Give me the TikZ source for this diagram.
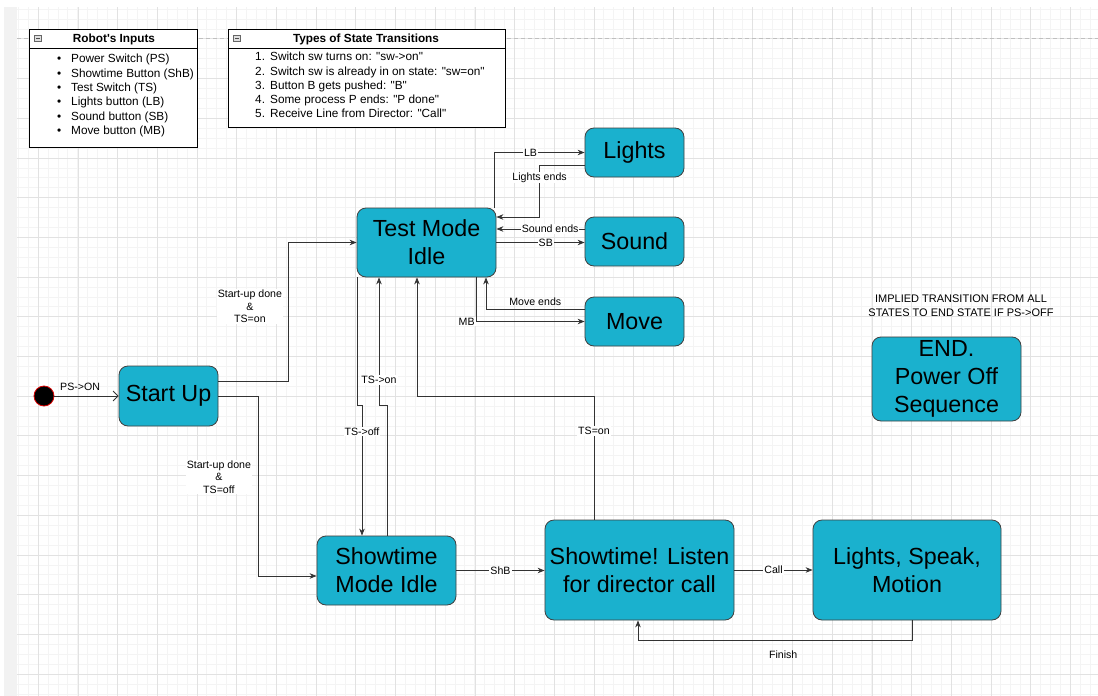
\documentclass[tikz,border=0pt]{standalone}
\usepackage{fontspec}
\setmainfont[Ligatures=TeXOff]{Liberation Sans}
\usetikzlibrary{arrows.meta,calc}
\definecolor{stfill}{RGB}{26,177,206}
\definecolor{gridminor}{RGB}{244,244,244}
\definecolor{gridmajor}{RGB}{226,226,226}
\begin{document}
\begin{tikzpicture}[x=1pt,y=-1pt,
  state/.style={draw=black!75, fill=stfill, rounded corners=9pt, align=center, inner sep=0pt,
    font=\fontsize{23.3}{28}\selectfont, line width=0.8pt},
  panel/.style={draw=black, fill=white, line width=0.8pt, inner sep=0pt},
  icon/.style={draw=black!60, fill=black!12, minimum width=7pt, minimum height=6pt, inner sep=0pt,
    path picture={\draw[black!70,line width=0.8pt] ([xshift=1.5pt]path picture bounding box.west) -- ([xshift=-1.5pt]path picture bounding box.east);}},
  listtext/.style={align=left, inner sep=0pt, font=\fontsize{11.8}{14.4}\selectfont},
  hdr/.style={inner sep=0pt, font=\bfseries\fontsize{11.8}{13}\selectfont},
  arr/.style={draw=black!80, line width=0.8pt, -{Stealth[length=7pt,width=5.5pt]}},
  lbl/.style={fill=white, inner sep=1pt, font=\fontsize{10.6}{12}\selectfont},
  lbltwo/.style={fill=white, inner sep=1pt, align=center, font=\fontsize{10.6}{12.5}\selectfont},
  note/.style={align=center, inner sep=0pt, font=\fontsize{11}{14}\selectfont}
]
\useasboundingbox (0,0) rectangle (1098,696);
% background grid
\fill[white] (0,0) rectangle (1098,696);
\fill[black!5] (4,7) rectangle (17,696);
\foreach \i in {0,...,108} {\draw[gridminor, line width=0.6pt] ({18.15+\i*9.925},7) -- ({18.15+\i*9.925},696);}
\foreach \i in {0,...,69} {\draw[gridminor, line width=0.6pt] (17,{9+\i*9.925}) -- (1098,{9+\i*9.925});}
\foreach \i in {0,...,26} {\draw[gridmajor, line width=0.7pt] ({38.15+\i*39.7},7) -- ({38.15+\i*39.7},696);}
\foreach \i in {0,...,16} {\draw[gridmajor, line width=0.7pt] (17,{38.8+\i*39.7}) -- (1098,{38.8+\i*39.7});}
\draw[black!25, line width=1pt, dash pattern=on 4pt off 3pt] (17,38) -- (1098,38);

% Robot's Inputs panel
\node[panel, minimum width=168pt, minimum height=118pt, anchor=north west] (ri) at (29,29) {};
\draw[line width=0.8pt] ([yshift=-19pt]ri.north west) -- ([yshift=-19pt]ri.north east);
\node[icon] (rii) at (38,38) {};
\node[hdr] (rih) at (114,39) {Robot's Inputs};
\node[listtext, anchor=north west] (ril) at (57,54) {%
\makebox[14pt][l]{\textbullet}Power Switch (PS)\\
\makebox[14pt][l]{\textbullet}Showtime Button (ShB)\\
\makebox[14pt][l]{\textbullet}Test Switch (TS)\\
\makebox[14pt][l]{\textbullet}Lights button (LB)\\
\makebox[14pt][l]{\textbullet}Sound button (SB)\\
\makebox[14pt][l]{\textbullet}Move button (MB)};

% Types of State Transitions panel
\node[panel, minimum width=277pt, minimum height=98pt, anchor=north west] (ts) at (228,29) {};
\draw[line width=0.8pt] ([yshift=-19pt]ts.north west) -- ([yshift=-19pt]ts.north east);
\node[icon] (tsi) at (237,38) {};
\node[hdr] (tsh) at (366,39) {Types of State Transitions};
\node[listtext, anchor=north west, font=\fontsize{11.8}{14.25}\selectfont] (tsl) at (255,52) {%
\makebox[15pt][l]{1.}Switch sw turns on: "sw->on"\\
\makebox[15pt][l]{2.}Switch sw is already in on state: "sw=on"\\
\makebox[15pt][l]{3.}Button B gets pushed: "B"\\
\makebox[15pt][l]{4.}Some process P ends: "P done"\\
\makebox[15pt][l]{5.}Receive Line from Director: "Call"};

% states
\node[circle, fill=black, draw=red!85!black, line width=0.8pt, minimum size=20pt, inner sep=0pt] (init) at (44,396) {};
\node[state, minimum width=99pt, minimum height=60pt] (su) at (168.5,396) {Start Up};
\node[state, minimum width=139pt, minimum height=69pt] (tm) at (426.5,242.5) {Test Mode\\Idle};
\node[state, minimum width=99pt, minimum height=49pt] (li) at (634.5,152.5) {Lights};
\node[state, minimum width=99pt, minimum height=49pt] (so) at (634.5,241.5) {Sound};
\node[state, minimum width=99pt, minimum height=49pt] (mv) at (634.5,321.5) {Move};
\node[state, minimum width=149pt, minimum height=84pt] (end) at (946.5,379) {END.\\Power Off\\Sequence};
\node[state, minimum width=139pt, minimum height=69pt] (sm) at (386.5,570.5) {Showtime\\Mode Idle};
\node[state, minimum width=189pt, minimum height=100pt] (sl) at (639.5,570) {Showtime! Listen\\for director call};
\node[state, minimum width=188pt, minimum height=100pt] (lsm) at (907,570) {Lights, Speak,\\Motion};
\node[note] (imp) at (961,306) {IMPLIED TRANSITION FROM ALL\\STATES TO END STATE IF PS->OFF};

% transitions
\draw[draw=black!80, line width=0.8pt, -{Straight Barb[length=5pt,width=10pt]}] (init.east) -- node[lbl, fill=none, above=4pt, pos=0.4]{PS->ON} (su.west);
\draw[arr] ([yshift=15pt]su.east) -- ++(70,0) |- node[lbltwo, pos=0.27, left=5pt]{Start-up done\\\&\\TS=on} (tm.west);
\draw[arr] (su.east) -- ++(40,0) |- node[lbltwo, pos=0.225, left=6pt]{Start-up done\\\&\\TS=off} ([yshift=-5.5pt]sm.west);
\draw[arr] ([xshift=-2pt]tm.north east) |- node[lbl, pos=0.7]{LB} (li.west);
\draw[arr] ([yshift=-12.5pt]li.west) -- ++(-45,0) |- node[lbl, pos=0.12]{Lights ends} ([yshift=25.5pt]tm.east);
\draw[arr] ([yshift=12.5pt]so.west) -- node[lbl, pos=0.39]{Sound ends} ([yshift=12.5pt]so.west -| tm.east);
\draw[arr] (tm.east) -- node[lbl, pos=0.56]{SB} (tm.east -| so.west);
\draw[arr] ([yshift=12.5pt]mv.west) -| node[lbl, fill=none, pos=0.25, above=2pt]{Move ends} ([xshift=59.5pt]tm.south);
\draw[arr] ([xshift=49.5pt]tm.south) |- node[lbl, pos=0.5, left=0pt]{MB} (mv.west);
\draw[arr] ([xshift=0.5pt]tm.south west) -- ++(0,128) -| node[lbl, pos=0.6]{TS->off} ([xshift=-24.5pt]sm.north);
\draw[arr] ([xshift=0.5pt]sm.north) -- ++(0,-130) -| node[lbl, pos=0.6]{TS->on} ([xshift=-47.5pt]tm.south);
\draw[arr] ([xshift=-45.5pt]sl.north) -- node[lbl, pos=0.72]{TS=on} ++(0,-123) -| ([xshift=-9.5pt]tm.south);
\draw[arr] (sm.east) -- node[lbl]{ShB} (sm.east -| sl.west);
\draw[arr] (sl.east) -- node[lbl]{Call} (lsm.west);
\draw[arr] ([xshift=5pt]lsm.south) -- ++(0,20) -| node[lbl, fill=none, pos=0.235, below=9pt]{Finish} ([xshift=-1.5pt]sl.south);
\end{tikzpicture}
\end{document}
